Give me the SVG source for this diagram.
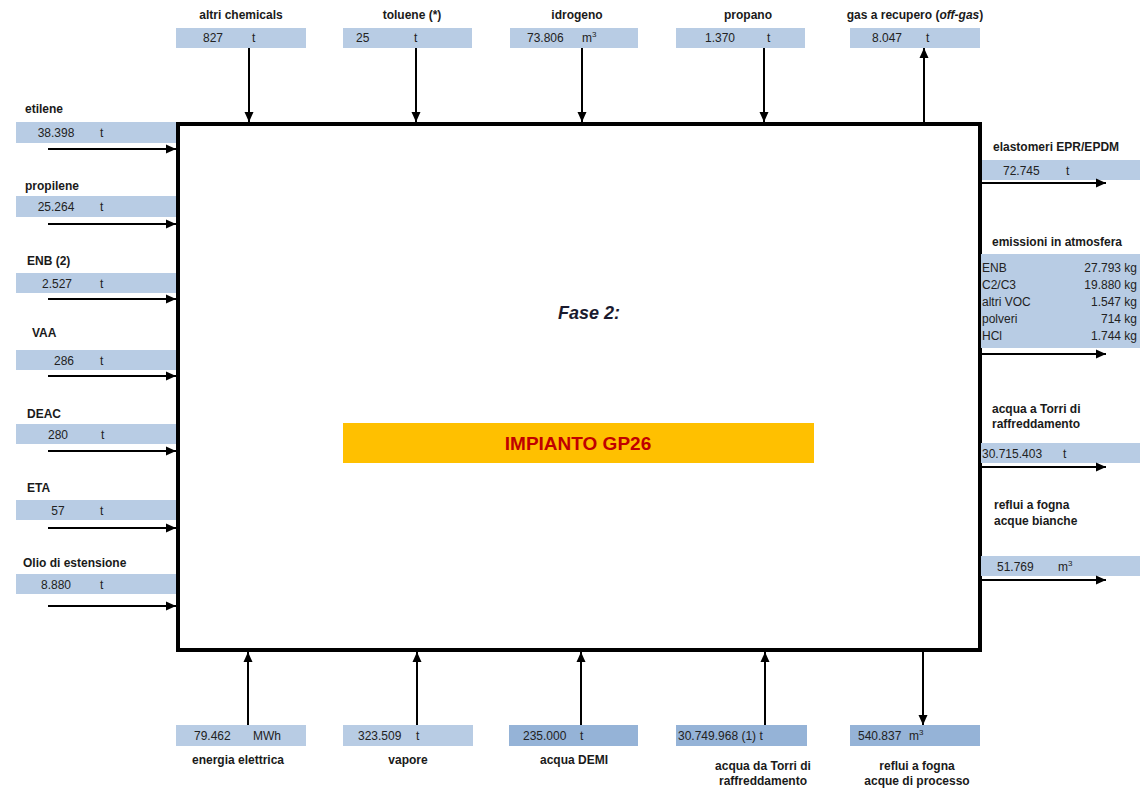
<svg xmlns="http://www.w3.org/2000/svg" width="1147" height="795" viewBox="0 0 1147 795">
<style>
text{font-family:"Liberation Sans",Arial,sans-serif;fill:#1a1a1a}
.lb{font-weight:bold;font-size:12px}
.v{font-size:12px;fill:#222}
.c{text-anchor:middle}
.r{text-anchor:end}
.bx{fill:#B8CCE4}
.bd{fill:#95B3D7}
.ar{stroke:#000;stroke-width:2;fill:none;marker-end:url(#ah)}
</style>
<defs>
<marker id="ah" markerUnits="userSpaceOnUse" markerWidth="10" markerHeight="10" refX="10" refY="5" orient="auto">
<path d="M0,0.5 L10,5 L0,9.5 z" fill="#000"/>
</marker>
</defs>
<rect width="1147" height="795" fill="#fff"/>

<g id="impianto">
<rect x="178" y="124" width="802" height="526" fill="#fff" stroke="#000" stroke-width="4"/>
<text x="589" y="319" class="c" style="font-weight:bold;font-style:italic;font-size:18px;fill:#1a1a2e">Fase 2:</text>
<rect x="343" y="423" width="471" height="40" fill="#FFC000"/>
<text x="578" y="450" class="c" style="font-weight:bold;font-size:19px;fill:#C00000">IMPIANTO GP26</text>
</g>

<g id="altri-chemicals">
<text x="241" y="19" class="lb c">altri chemicals</text>
<rect x="176" y="28" width="130" height="20" class="bx"/>
<text x="203" y="42" class="v">827</text><text x="252" y="42" class="v">t</text>
</g>
<g id="toluene">
<text x="412" y="19" class="lb c">toluene (*)</text>
<rect x="343" y="28" width="129" height="20" class="bx"/>
<text x="356" y="42" class="v">25</text><text x="414" y="42" class="v">t</text>
</g>
<g id="idrogeno">
<text x="577" y="19" class="lb c">idrogeno</text>
<rect x="510" y="28" width="128" height="20" class="bx"/>
<text x="527" y="42" class="v">73.806</text><text x="582" y="42" class="v">m<tspan dy="-5" style="font-size:8px">3</tspan></text>
</g>
<g id="propano">
<text x="748" y="19" class="lb c">propano</text>
<rect x="676" y="28" width="129" height="20" class="bx"/>
<text x="705" y="42" class="v">1.370</text><text x="767" y="42" class="v">t</text>
</g>
<g id="gas-recupero">
<text x="915" y="19" class="lb c">gas a recupero (<tspan style="font-style:italic">off-gas</tspan>)</text>
<rect x="850" y="28" width="130" height="20" class="bx"/>
<text x="872" y="42" class="v">8.047</text><text x="926" y="42" class="v">t</text>
</g>

<g id="etilene">
<text x="25" y="113" class="lb">etilene</text>
<rect x="16" y="122" width="160" height="21" class="bx"/>
<text x="56" y="137" class="v c">38.398</text><text x="100" y="137" class="v">t</text>
</g>
<g id="propilene">
<text x="25" y="190" class="lb">propilene</text>
<rect x="16" y="196" width="160" height="21" class="bx"/>
<text x="56" y="211" class="v c">25.264</text><text x="100" y="211" class="v">t</text>
</g>
<g id="enb">
<text x="27" y="265" class="lb">ENB (2)</text>
<rect x="16" y="273" width="160" height="20" class="bx"/>
<text x="57" y="288" class="v c">2.527</text><text x="100" y="288" class="v">t</text>
</g>
<g id="vaa">
<text x="32" y="337" class="lb">VAA</text>
<rect x="16" y="350" width="160" height="20" class="bx"/>
<text x="64" y="365" class="v c">286</text><text x="100" y="365" class="v">t</text>
</g>
<g id="deac">
<text x="27" y="418" class="lb">DEAC</text>
<rect x="16" y="424" width="160" height="20" class="bx"/>
<text x="58" y="439" class="v c">280</text><text x="101" y="439" class="v">t</text>
</g>
<g id="eta">
<text x="27" y="492" class="lb">ETA</text>
<rect x="16" y="500" width="160" height="20" class="bx"/>
<text x="58" y="515" class="v c">57</text><text x="100" y="515" class="v">t</text>
</g>
<g id="olio">
<text x="23" y="567" class="lb">Olio di estensione</text>
<rect x="16" y="574" width="160" height="20" class="bx"/>
<text x="56" y="589" class="v c">8.880</text><text x="100" y="589" class="v">t</text>
</g>

<g id="elastomeri">
<text x="993" y="151" class="lb">elastomeri EPR/EPDM</text>
<rect x="982" y="160" width="158" height="20" class="bx"/>
<text x="1003" y="175" class="v">72.745</text><text x="1066" y="175" class="v">t</text>
</g>
<g id="emissioni">
<text x="992" y="246" class="lb">emissioni in atmosfera</text>
<rect x="981" y="254" width="159" height="94" class="bx"/>
<text x="982" y="272" class="v">ENB</text><text x="1137" y="272" class="v r">27.793 kg</text>
<text x="982" y="289" class="v">C2/C3</text><text x="1137" y="289" class="v r">19.880 kg</text>
<text x="982" y="306" class="v">altri VOC</text><text x="1137" y="306" class="v r">1.547 kg</text>
<text x="982" y="323" class="v">polveri</text><text x="1137" y="323" class="v r">714 kg</text>
<text x="982" y="340" class="v">HCl</text><text x="1137" y="340" class="v r">1.744 kg</text>
</g>
<g id="acqua-torri-out">
<text x="992" y="413" class="lb">acqua a Torri di</text>
<text x="992" y="428" class="lb">raffreddamento</text>
<rect x="981" y="443" width="159" height="20" class="bx"/>
<text x="982" y="458" class="v">30.715.403</text><text x="1063" y="458" class="v">t</text>
</g>
<g id="reflui-bianche">
<text x="994" y="509" class="lb">reflui a fogna</text>
<text x="994" y="525" class="lb">acque bianche</text>
<rect x="981" y="556" width="159" height="20" class="bx"/>
<text x="997" y="571" class="v">51.769</text><text x="1058" y="571" class="v">m<tspan dy="-5" style="font-size:8px">3</tspan></text>
</g>

<g id="energia">
<rect x="176" y="725" width="130" height="21" class="bx"/>
<text x="194" y="740" class="v">79.462</text><text x="253" y="740" class="v">MWh</text>
<text x="238" y="764" class="lb c">energia elettrica</text>
</g>
<g id="vapore">
<rect x="343" y="725" width="130" height="21" class="bx"/>
<text x="358" y="740" class="v">323.509</text><text x="416" y="740" class="v">t</text>
<text x="408" y="764" class="lb c">vapore</text>
</g>
<g id="acqua-demi">
<rect x="509" y="725" width="129" height="21" class="bd"/>
<text x="523" y="740" class="v">235.000</text><text x="580" y="740" class="v">t</text>
<text x="574" y="764" class="lb c">acqua DEMI</text>
</g>
<g id="acqua-torri-in">
<rect x="676" y="725" width="131" height="21" class="bd"/>
<text x="678" y="740" class="v">30.749.968 (1) t</text>
<text x="763" y="770" class="lb c">acqua da Torri di</text>
<text x="763" y="785" class="lb c">raffreddamento</text>
</g>
<g id="reflui-processo">
<rect x="850" y="725" width="130" height="21" class="bd"/>
<text x="858" y="740" class="v">540.837</text><text x="909" y="740" class="v">m<tspan dy="-5" style="font-size:8px">3</tspan></text>
<text x="917" y="770" class="lb c">reflui a fogna</text>
<text x="917" y="785" class="lb c">acque di processo</text>
</g>

<g id="connectors">
<line x1="249" y1="48" x2="249" y2="122" class="ar"/>
<line x1="416" y1="48" x2="416" y2="122" class="ar"/>
<line x1="582" y1="48" x2="582" y2="122" class="ar"/>
<line x1="764" y1="48" x2="764" y2="122" class="ar"/>
<line x1="924" y1="122" x2="924" y2="48" class="ar"/>
<line x1="48" y1="149" x2="176" y2="149" class="ar"/>
<line x1="48" y1="224" x2="176" y2="224" class="ar"/>
<line x1="48" y1="299" x2="176" y2="299" class="ar"/>
<line x1="48" y1="376" x2="176" y2="376" class="ar"/>
<line x1="48" y1="451" x2="176" y2="451" class="ar"/>
<line x1="48" y1="528" x2="176" y2="528" class="ar"/>
<line x1="48" y1="606" x2="176" y2="606" class="ar"/>
<line x1="982" y1="183" x2="1106" y2="183" class="ar"/>
<line x1="982" y1="354" x2="1106" y2="354" class="ar"/>
<line x1="982" y1="467" x2="1106" y2="467" class="ar"/>
<line x1="982" y1="580" x2="1106" y2="580" class="ar"/>
<line x1="248" y1="725" x2="248" y2="652" class="ar"/>
<line x1="417" y1="725" x2="417" y2="652" class="ar"/>
<line x1="581" y1="725" x2="581" y2="652" class="ar"/>
<line x1="765" y1="725" x2="765" y2="652" class="ar"/>
<line x1="923" y1="652" x2="923" y2="725" class="ar"/>
</g>
</svg>
